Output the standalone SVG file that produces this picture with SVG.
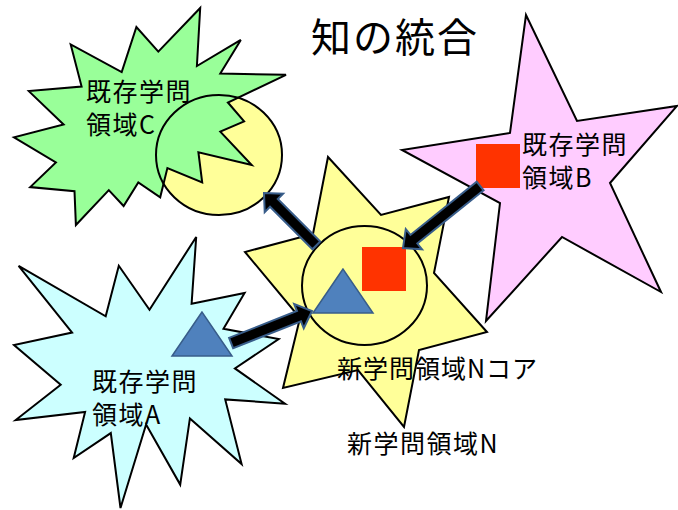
<svg xmlns="http://www.w3.org/2000/svg" width="678" height="510" viewBox="0 0 678 510">
<style>
.shape{stroke:#000;stroke-width:2;stroke-linejoin:miter}
.lbl{font-family:"Noto Sans CJK JP","Noto Sans",sans-serif;font-size:25px;fill:#000;letter-spacing:1.5px}
.title{font-family:"Noto Sans CJK JP","Noto Sans",sans-serif;font-size:40px;fill:#000;letter-spacing:2px}
.arrow{fill:#000;stroke:#385d8a;stroke-width:2;stroke-linejoin:miter}
.tri{fill:#4f81bd;stroke:#385d8a;stroke-width:1.5}
.sq{fill:#ff3300}
</style>
<rect width="678" height="510" fill="#fff"/>
<g id="title"><text class="title" x="311" y="52">知の統合</text></g>
<g id="domainC">
<ellipse cx="219" cy="155" rx="63" ry="60" fill="#ffff99"/>
<polygon class="shape" fill="#99ff99" points="158.3,51.6 200.2,8 196.9,66 240.8,39.9 220.3,73.6 286,74.8 227.9,102.5 244.1,121.4 220.3,131.7 251.7,165 198.4,152.2 202.2,182.5 167.4,168.1 160.2,197.3 138.3,182.5 123.6,206 108.8,190.1 75.9,225 74.5,191.2 30.2,187.1 55.9,162.4 14,137.4 63.6,124.5 28.8,91.1 81.6,86.5 70.7,44.4 121.7,72.1 136.4,27"/>
<ellipse cx="219" cy="155" rx="63" ry="60" fill="none" stroke="#000" stroke-width="2"/>
<text class="lbl" x="86" y="101">既存学問</text>
<text class="lbl" x="86" y="134">領域C</text>
</g>
<g id="domainB">
<polygon class="shape" fill="#ffccff" points="526,15 577,121 677,106 610,183 661,292 562,237 486,321 500,203 402,150 510,133"/>
<rect class="sq" x="476" y="144" width="44" height="44"/>
<text class="lbl" x="522" y="154">既存学問</text>
<text class="lbl" x="522" y="187">領域B</text>
</g>
<g id="domainA">
<polygon class="shape" fill="#ccffff" points="149.5,309.8 196.2,237 191.6,303.8 244.6,292.9 223.5,328.8 278.7,339.1 234.9,368.4 285,403.7 225.2,399.4 241.6,464 189.9,418.4 180.2,484.6 146.1,424.4 120.5,508 110.8,433.1 73.7,458 85.1,411.9 15.7,420 60.7,384.7 14,345.1 72.1,332.6 18.6,265.8 105.7,316.3 118.8,265.8"/>
<polygon class="tri" points="202,312 172,356 232,356"/>
<text class="lbl" x="92" y="391">既存学問</text>
<text class="lbl" x="92" y="424">領域A</text>
</g>
<g id="domainN">
<polygon class="shape" fill="#ffff99" points="328,157 381,215 449,197 434,273 487,332 419,350 404,427 358,370 283,388 300,318 245,252 313,234"/>
<text class="lbl" x="347" y="453">新学問領域N</text>
</g>
<g id="coreN">
<ellipse cx="364.5" cy="285.5" rx="62.5" ry="59.5" fill="#ffff99" stroke="#000" stroke-width="2"/>
<rect class="sq" x="362" y="247" width="44" height="44"/>
<polygon class="tri" points="343,269 313,313 373,313"/>
<text class="lbl" x="337" y="378" style="letter-spacing:1px">新学問領域Nコア</text>
</g>
<g id="connectors">
<path class="arrow" transform="translate(312,311) rotate(-21.6)" d="M-87,-5.5 H-14 V-13 L0,0 L-14,13 V5.5 H-87 Z"/>
<path class="arrow" transform="translate(264,193) rotate(-135)" d="M-74,-5.5 H-14 V-13 L0,0 L-14,13 V5.5 H-74 Z"/>
<path class="arrow" transform="translate(403,248) rotate(141.2)" d="M-99,-5.5 H-14 V-13 L0,0 L-14,13 V5.5 H-99 Z"/>
</g>
</svg>
